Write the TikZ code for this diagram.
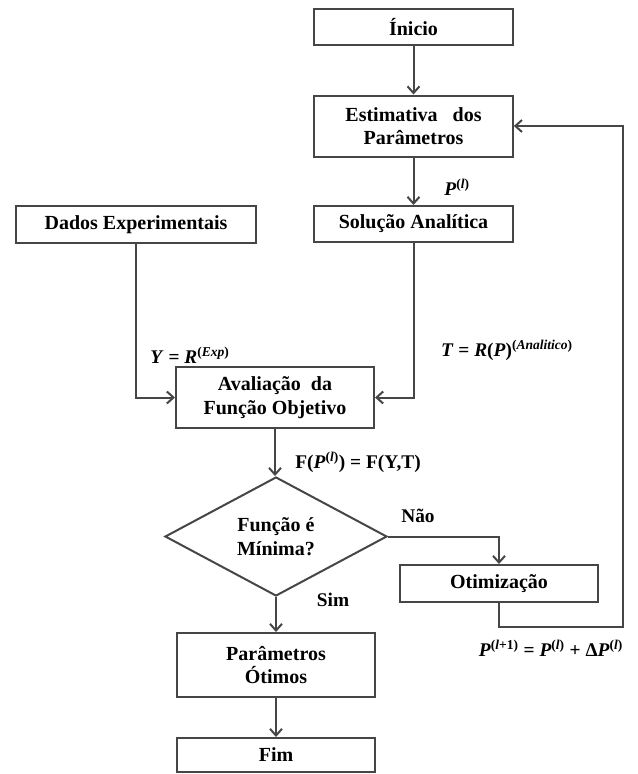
\documentclass[tikz,border=0pt]{standalone}
\usepackage{fontspec}
\setmainfont{Liberation Serif}
\usetikzlibrary{arrows.meta,shapes.geometric}

\newcommand{\bi}[1]{\textbf{\textit{#1}}}
\newcommand{\expo}[1]{\textsuperscript{\bfseries #1}}

\tikzset{every picture/.style={line width=1.5pt}}
\tikzset{
  caixa/.style={draw={rgb, 255:red, 70; green, 70; blue, 70}, fill=white, align=center,
    font=\fontsize{15}{17.5}\selectfont\bfseries, inner sep=2pt, minimum width=149pt},
  decisao/.style={caixa, diamond, minimum width=166.5pt, minimum height=89.25pt, inner sep=0pt},
  rotulo/.style={font=\fontsize{14.5}{16}\selectfont\bfseries, inner sep=1pt},
  seta/.style={draw={rgb, 255:red, 70; green, 70; blue, 70}, -{Straight Barb[length=5pt,width=9pt]}}
}

\begin{document}
\begin{tikzpicture}[x=0.75pt,y=0.75pt,yscale=-1,xscale=1]
\useasboundingbox (0,0) rectangle (638,774);

% Boxes
\draw (413.5,27) node [caixa, minimum height=27pt] (inicio) {Ínicio};
\draw (413.5,126) node [caixa, minimum height=45.75pt] (estim) {Estimativa\ \ \ dos\\Parâmetros};
\draw (413.5,224) node [caixa, minimum height=27pt] (solucao) {Solução Analítica};
\draw (136,224.5) node [caixa, minimum width=180pt, minimum height=27.75pt] (dados) {Dados Experimentais};
\draw (275,397.5) node [caixa, minimum width=148.5pt, minimum height=45.75pt] (aval) {Avaliação\ \ da\\Função Objetivo};
\draw (276,536.5) node [decisao] (teste) {Função é\\Mínima?};
\draw (499,583.5) node [caixa, minimum width=148.5pt, minimum height=27.75pt] (otim) {Otimização};
\draw (276,665) node [caixa, minimum width=148.5pt, minimum height=48pt] (param) {Parâmetros\\Ótimos};
\draw (276,755) node [caixa, minimum width=148.5pt, minimum height=25.5pt] (fim) {Fim};
\coordinate (retorno) at (623,627);

% Connectors
\draw [seta] (inicio) -- (estim);
\draw [seta] (estim) -- (solucao);
\draw [seta] (dados.south) |- (aval.west);
\draw [seta] (solucao.south) |- (aval.east);
\draw [seta] (aval.south) -- (aval.south |- teste.north);
\draw [seta] (teste.east) -| (otim.north);
\draw [seta] (teste.south) -- (param.north);
\draw [seta] (param) -- (fim);
\draw [seta] (otim.south) |- (retorno) |- (estim.east);

% Text Node
\draw (457,187) node [rotulo] (lbP) {\bi{P}\expo{(\textit{l})}};
\draw (190,355) node [rotulo] (lbY) {\bi{Y} = \bi{R}\expo{(\textit{Exp})}};
\draw (507,350) node [rotulo] (lbT) {\bi{T} = \bi{R}(\bi{P})\expo{(\textit{Analitico})}};
\draw (358,462) node [rotulo] (lbF) {F(\bi{P}\expo{(\textit{l})}) = F(Y,T)};
\draw (418,516) node [rotulo] (lbNao) {Não};
\draw (333,600) node [rotulo] (lbSim) {Sim};
\draw (551,648) node [rotulo] (lbPn) {\bi{P}\expo{(\textit{l}+1)} = \bi{P}\expo{(\textit{l})} + Δ\bi{P}\expo{(\textit{l})}};

\end{tikzpicture}
\end{document}
